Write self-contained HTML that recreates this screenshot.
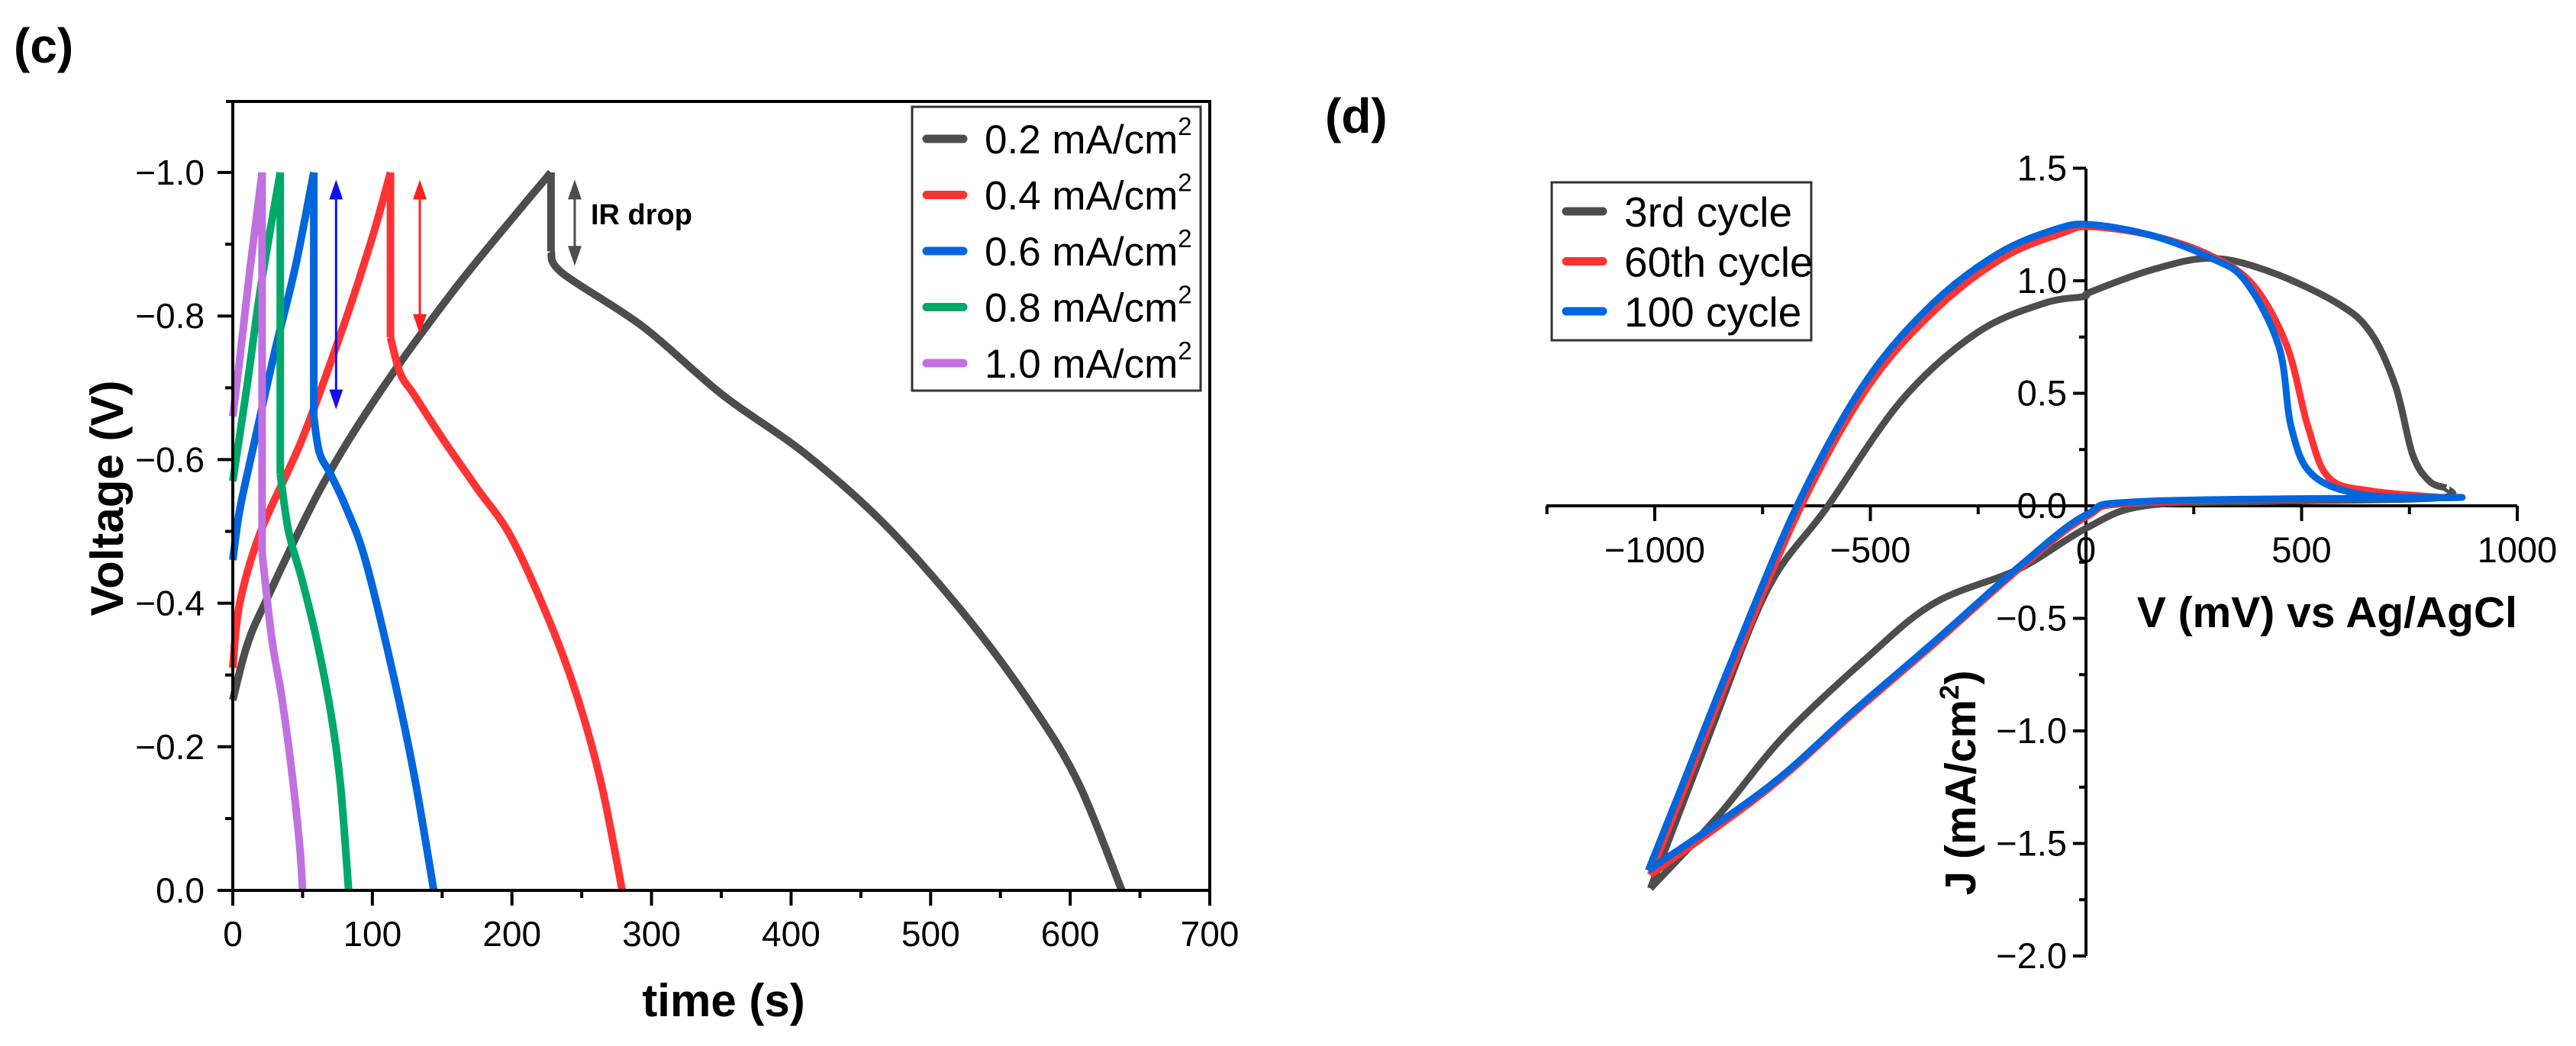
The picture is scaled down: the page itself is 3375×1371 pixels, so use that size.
<!DOCTYPE html>
<html><head><meta charset="utf-8">
<style>
html,body{margin:0;padding:0;background:#fff;}
svg{display:block;font-family:"Liberation Sans",Arial,sans-serif;}
</style></head>
<body>
<svg id="fig" width="3375" height="1371" viewBox="0 0 3375 1371" xmlns="http://www.w3.org/2000/svg">
<rect width="3375" height="1371" fill="#fff"/>
<text x="18" y="82" font-size="64" font-weight="bold">(c)</text>
<text x="1736" y="174" font-size="64" font-weight="bold">(d)</text>
<g id="gc"></g>
<g id="gd"></g>
</svg>
<script>
// ---------- Panel (c) data ----------
const gcdSeriesNames = ["0.2 mA/cm", "0.4 mA/cm", "0.6 mA/cm", "0.8 mA/cm", "1.0 mA/cm"];
const gcdColors = ["#4d4d4d", "#ff3333", "#0066dd", "#00a86b", "#c070e0"];
const gcdTime02 = [0, 10, 23, 63, 104, 156, 202, 228, 228, 236, 294, 351, 409, 467, 524, 570, 605, 637];
const gcdVolt02 = [-0.265, -0.34, -0.40, -0.56, -0.69, -0.83, -0.94, -1.0, -0.89, -0.86, -0.785, -0.69, -0.61, -0.51, -0.385, -0.265, -0.153, 0];
const gcdTime04 = [0, 5, 20, 50, 80, 100, 113, 113, 120, 130, 150, 175, 200, 230, 250, 265, 279];
const gcdVolt04 = [-0.31, -0.40, -0.50, -0.63, -0.79, -0.91, -1.0, -0.77, -0.72, -0.69, -0.63, -0.56, -0.49, -0.36, -0.25, -0.14, 0];
const gcdTime06 = [0, 5, 15, 30, 45, 58, 58, 62, 70, 81, 95, 115, 130, 144];
const gcdVolt06 = [-0.46, -0.53, -0.62, -0.75, -0.87, -1.0, -0.66, -0.61, -0.58, -0.534, -0.46, -0.30, -0.16, 0];
const gcdTime08 = [0, 10, 20, 34, 34, 40, 50, 60, 70, 77, 83];
const gcdVolt08 = [-0.57, -0.70, -0.84, -1.0, -0.58, -0.50, -0.43, -0.35, -0.25, -0.15, 0];
const gcdTime10 = [0, 5, 12, 21, 21, 28, 35, 42, 48, 50];
const gcdVolt10 = [-0.66, -0.74, -0.86, -1.0, -0.47, -0.35, -0.27, -0.17, -0.06, 0];
const gcdXTicks = [0, 100, 200, 300, 400, 500, 600, 700];
const gcdYTicks = [0, -0.2, -0.4, -0.6, -0.8, -1.0];
const irArrowTimes = [245, 134, 74];
const irArrowTop = [-0.99, -0.99, -0.99];
const irArrowBottom = [-0.87, -0.775, -0.67];
const irArrowColors = ["#4d4d4d", "#ff2020", "#1010ee"];

// ---------- Panel (d) data ----------
const cvNames = ["3rd cycle", "60th cycle", "100 cycle"];
const cvColors = ["#4d4d4d", "#ff3333", "#0066dd"];
const cvV3 = [-1010, -874, -738, -602, -427, -252, -97, -5, 10, 155, 291, 427, 583, 660, 718, 757, 796, 835, 816, 427, 136, 0, -155, -350, -505, -699, -854, -1010];
const cvJ3 = [-1.70, -1.02, -0.37, -0.01, 0.47, 0.77, 0.90, 0.93, 0.95, 1.05, 1.10, 1.04, 0.90, 0.77, 0.53, 0.23, 0.11, 0.08, 0.035, 0.02, 0.0, -0.10, -0.28, -0.43, -0.67, -1.02, -1.38, -1.70];
const cvV60 = [-1010, -932, -816, -660, -505, -350, -194, -58, 10, 155, 291, 388, 466, 515, 563, 660, 835, 816, 136, 0, -155, -350, -544, -738, -1010];
const cvJ60 = [-1.64, -1.26, -0.70, 0.0, 0.53, 0.87, 1.10, 1.21, 1.24, 1.20, 1.11, 0.98, 0.71, 0.35, 0.125, 0.066, 0.036, 0.036, 0.015, -0.05, -0.28, -0.61, -0.93, -1.26, -1.64];
const cvV100 = [-1015, -940, -824, -670, -515, -360, -204, -68, 10, 155, 291, 369, 447, 476, 524, 641, 835, 816, 136, 0, -155, -350, -544, -738, -1015];
const cvJ100 = [-1.62, -1.26, -0.70, 0.0, 0.54, 0.89, 1.12, 1.23, 1.25, 1.20, 1.10, 1.00, 0.71, 0.35, 0.14, 0.05, 0.036, 0.036, 0.02, -0.04, -0.27, -0.60, -0.92, -1.25, -1.62];
const cvXTicks = [-1000, -500, 0, 500, 1000];
const cvYTicks = [1.5, 1.0, 0.5, 0.0, -0.5, -1.0, -1.5, -2.0];

const NS = "http://www.w3.org/2000/svg";
function mk(parent, tag, attrs, text) {
  const e = document.createElementNS(NS, tag);
  for (const k in attrs) e.setAttribute(k, attrs[k]);
  if (text !== undefined) e.textContent = text;
  parent.appendChild(e);
  return e;
}
function fmt(v, d) { const s = Math.abs(v).toFixed(d); return (v < 0 ? "\u2212" : "") + s; }
function smoothRun(p) {
  let d = "M" + p[0][0].toFixed(1) + "," + p[0][1].toFixed(1);
  for (let i = 0; i < p.length - 1; i++) {
    const p0 = p[i - 1] || p[i], p1 = p[i], p2 = p[i + 1], p3 = p[i + 2] || p[i + 1];
    const c1 = [p1[0] + (p2[0] - p0[0]) / 6, p1[1] + (p2[1] - p0[1]) / 6];
    const c2 = [p2[0] - (p3[0] - p1[0]) / 6, p2[1] - (p3[1] - p1[1]) / 6];
    d += " C" + c1.map(n => n.toFixed(1)).join(",") + " " + c2.map(n => n.toFixed(1)).join(",") + " " + p2[0].toFixed(1) + "," + p2[1].toFixed(1);
  }
  return d;
}
function runsToPath(runs) {
  return runs.map(r => r.length > 2 ? smoothRun(r) : "M" + r.map(q => q[0].toFixed(1) + "," + q[1].toFixed(1)).join(" L")).join(" ");
}
function splitEqualX(pts) {
  const runs = [[pts[0]]];
  for (let i = 1; i < pts.length; i++) {
    runs[runs.length - 1].push(pts[i]);
    if (Math.abs(pts[i][0] - pts[i - 1][0]) < 0.01) runs.push([pts[i]]);
  }
  // fix: vertical segment belongs to its own run
  const out = [];
  runs.forEach(r => {
    const n = r.length;
    if (n >= 2 && Math.abs(r[n - 1][0] - r[n - 2][0]) < 0.01) {
      out.push(r.slice(0, n - 1));
      out.push([r[n - 2], r[n - 1]]);
    } else out.push(r);
  });
  return out.filter(r => r.length > 1);
}

// ===== Panel c =====
const gc = document.getElementById("gc");
const xL = t => 305 + t * (1280 / 700);
const yL = v => 1167 + v * 941;
const gcdTimes = [gcdTime02, gcdTime04, gcdTime06, gcdTime08, gcdTime10];
const gcdVolts = [gcdVolt02, gcdVolt04, gcdVolt06, gcdVolt08, gcdVolt10];
for (let s = 0; s < 5; s++) {
  const pts = gcdTimes[s].map((t, i) => [xL(t), yL(gcdVolts[s][i])]);
  const pl = mk(gc, "path", {d: runsToPath(splitEqualX(pts)), fill: "none", stroke: gcdColors[s], "stroke-width": 10, "stroke-linejoin": "round"});
  
  
}
for (let a = 0; a < 3; a++) {
  const x = xL(irArrowTimes[a]), y1 = yL(irArrowTop[a]), y2 = yL(irArrowBottom[a]);
  const g = mk(gc, "g", {});
  
  
  mk(g, "line", {x1: x, y1: y1 + 20, x2: x, y2: y2 - 20, stroke: irArrowColors[a], "stroke-width": 3});
  mk(g, "polygon", {points: `${x},${y1} ${x-9},${y1+26} ${x+9},${y1+26}`, fill: irArrowColors[a]});
  mk(g, "polygon", {points: `${x},${y2} ${x-9},${y2-26} ${x+9},${y2-26}`, fill: irArrowColors[a]});
}
const irT = mk(gc, "text", {x: 774, y: 294, "font-size": 38, "font-weight": "bold"}, "IR drop");


const frame = mk(gc, "path", {d: `M296,133 H1585 V1167 H296 M305,133 V1167`, fill: "none", stroke: "#000", "stroke-width": 4});


for (let t = 0; t <= 700; t += 50) {
  const major = t % 100 === 0;
  mk(gc, "line", {x1: xL(t), y1: 1167, x2: xL(t), y2: 1167 + (major ? 20 : 10), stroke: "#000", "stroke-width": 4});
}
gcdXTicks.forEach(t => {
  const e = mk(gc, "text", {x: xL(t), y: 1240, "font-size": 46, "text-anchor": "middle"}, String(t));
  
  
});
for (let k = 0; k <= 10; k++) {
  const v = -k / 10, major = k % 2 === 0;
  mk(gc, "line", {x1: 305, y1: yL(v), x2: 305 - (major ? 20 : 10), y2: yL(v), stroke: "#000", "stroke-width": 4});
}
gcdYTicks.forEach(v => {
  const e = mk(gc, "text", {x: 268, y: yL(v) + 16, "font-size": 46, "text-anchor": "end"}, fmt(v, 1));
  
  
});
const xt = mk(gc, "text", {x: 948, y: 1332, "font-size": 60, "font-weight": "bold", "text-anchor": "middle"}, "time (s)");


const yt = mk(gc, "text", {x: 0, y: 0, "font-size": 60, "font-weight": "bold", "text-anchor": "middle", transform: "translate(161,653) rotate(-90)"}, "Voltage (V)");


const lg = mk(gc, "g", {});


mk(lg, "rect", {x: 1195, y: 140, width: 378, height: 372, fill: "#fff", stroke: "#333", "stroke-width": 3});
for (let s = 0; s < 5; s++) {
  const cy = 182 + s * 73.5;
  const it = mk(lg, "g", {});
  
  
  mk(it, "line", {x1: 1214, y1: cy, x2: 1262, y2: cy, stroke: gcdColors[s], "stroke-width": 11, "stroke-linecap": "round"});
  const tx = mk(it, "text", {x: 1290, y: cy + 19, "font-size": 53}, gcdSeriesNames[s]);
  mk(tx, "tspan", {"font-size": 33, dy: -24}, "2");
}

// ===== Panel d =====
const gd = document.getElementById("gd");
const xR = v => 2733 + v * 0.565;
const yR = j => 663 - j * 295;
const cvVs = [cvV3, cvV60, cvV100];
const cvJs = [cvJ3, cvJ60, cvJ100];
const ax = mk(gd, "path", {d: `M2026,663 H3298 M2733,221 V1253`, fill: "none", stroke: "#000", "stroke-width": 4});


for (let v = -1250; v <= 1000; v += 250) {
  const major = v % 500 === 0;
  mk(gd, "line", {x1: xR(v), y1: 663, x2: xR(v), y2: 663 + (major ? 20 : 11), stroke: "#000", "stroke-width": 4});
}
cvXTicks.forEach(v => {
  const e = mk(gd, "text", {x: xR(v), y: 737, "font-size": 47, "text-anchor": "middle"}, fmt(v, 0));
  
  
});
for (let k = -8; k <= 6; k++) {
  const j = k / 4, major = k % 2 === 0;
  mk(gd, "line", {x1: 2733, y1: yR(j), x2: 2733 - (major ? 17 : 9), y2: yR(j), stroke: "#000", "stroke-width": 4});
}
cvYTicks.forEach(j => {
  const e = mk(gd, "text", {x: 2708, y: yR(j) + 16, "font-size": 47, "text-anchor": "end"}, fmt(j, 1));
  
  
});
for (let s = 0; s < 3; s++) {
  const pts = cvVs[s].map((v, i) => [xR(v), yR(cvJs[s][i])]);
  let imax = 0;
  cvVs[s].forEach((v, i) => { if (v > cvVs[s][imax]) imax = i; });
  const runs = [pts.slice(0, imax + 1), pts.slice(imax)];
  const pl = mk(gd, "path", {d: runsToPath(runs), fill: "none", stroke: cvColors[s], "stroke-width": 9, "stroke-linejoin": "round"});
  
  
}
const xt2 = mk(gd, "text", {x: 3298, y: 822, "font-size": 57, "font-weight": "bold", "text-anchor": "end"}, "V (mV) vs Ag/AgCl");


const yt2 = mk(gd, "text", {x: 0, y: 0, "font-size": 57, "font-weight": "bold", "text-anchor": "middle", transform: "translate(2588,1026) rotate(-90)"}, "J (mA/cm");


mk(yt2, "tspan", {"font-size": 35, dy: -22}, "2");
mk(yt2, "tspan", {dy: 22}, ")");
const lg2 = mk(gd, "g", {});


mk(lg2, "rect", {x: 2033, y: 239, width: 340, height: 207, fill: "#fff", stroke: "#333", "stroke-width": 3});
for (let s = 0; s < 3; s++) {
  const cy = 277 + s * 65.5;
  const it = mk(lg2, "g", {});
  
  
  mk(it, "line", {x1: 2052, y1: cy, x2: 2100, y2: cy, stroke: cvColors[s], "stroke-width": 11, "stroke-linecap": "round"});
  mk(it, "text", {x: 2128, y: cy + 20, "font-size": 55}, cvNames[s]);
}
</script>
</body></html>
